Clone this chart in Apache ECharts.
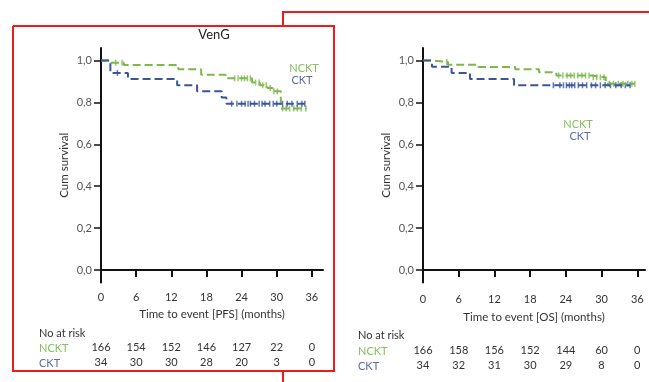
<!DOCTYPE html>
<html><head><meta charset="utf-8">
<script src="https://cdn.jsdelivr.net/npm/echarts@6/dist/echarts.min.js"></script>
<style>html,body{margin:0;padding:0;background:#fff}#c{width:649px;height:382px}</style>
</head><body><div id="c"></div>
<script>
// ---- data ----
const xTicks = [0, 6, 12, 18, 24, 30, 36];
const yTicks = [0, 0.2, 0.4, 0.6, 0.8, 1.0];
const groups = ['NCKT', 'CKT'];

// PFS panel (left)
const pfsNcktT = [0, 1.7, 3.9, 13.2, 17.1, 21.3, 25.8, 27.1, 28.4, 29.3, 30.7, 35.0];
const pfsNcktS = [1, 0.99, 0.979, 0.958, 0.932, 0.915, 0.895, 0.882, 0.869, 0.853, 0.771, 0.771];
const pfsNcktCens = [2.5, 3.6, 22.8, 23.4, 24.0, 24.5, 25.0, 25.5, 26.4, 27.0, 27.6, 28.2, 28.9, 29.5, 30.1, 31.0, 31.6, 32.2, 32.9, 33.5, 34.2, 35.0];
const pfsCktT = [0, 1.6, 4.6, 13.0, 16.4, 20.6, 21.4, 34.8];
const pfsCktS = [1, 0.941, 0.912, 0.882, 0.853, 0.824, 0.794, 0.794];
const pfsCktCens = [2.8, 22.3, 23.2, 24.0, 24.6, 25.1, 25.5, 26.2, 27.0, 27.5, 28.0, 28.8, 29.4, 30.0, 31.0, 31.8, 32.6, 33.5, 34.3, 34.8];
const pfsRiskNckt = [166, 154, 152, 146, 127, 22, 0];
const pfsRiskCkt = [34, 30, 30, 28, 20, 3, 0];

// OS panel (right)
const osNcktT = [0, 1.5, 4.2, 9.3, 15.5, 19.5, 22.4, 28.4, 30.7, 35.6];
const osNcktS = [1, 0.993, 0.98, 0.969, 0.958, 0.944, 0.929, 0.92, 0.889, 0.889];
const osNcktCens = [4.0, 22.8, 23.5, 24.2, 24.8, 25.4, 26.0, 26.7, 27.3, 27.9, 28.6, 29.2, 29.8, 30.4, 31.3, 32.0, 32.8, 33.6, 34.4, 35.1, 35.6];
const osCktT = [0, 1.5, 4.8, 7.9, 15.3, 34.8];
const osCktS = [1, 0.971, 0.941, 0.912, 0.882, 0.882];
const osCktCens = [21.9, 23.0, 23.6, 24.1, 24.6, 25.0, 25.5, 26.1, 26.8, 27.5, 28.3, 29.0, 29.8, 30.6, 31.5, 32.4, 33.3, 34.0, 34.8];
const osRiskNckt = [166, 158, 156, 152, 144, 60, 0];
const osRiskCkt = [34, 32, 31, 30, 29, 8, 0];

const titleText = 'VenG';
const xNames = ['Time to event [PFS] (months)', 'Time to event [OS] (months)'];
const yName = 'Cum survival';
const riskTitle = 'No at risk';

// ---- style ----
const GREEN = '#7cb84a', BLUE = '#3a5699';
const GREEN_T = '#86c05a', BLUE_T = '#5e6ca3';
const FONT = 'Lato';
const RED = '#ee1b1b';

function pts(T, S) { return T.map((t, i) => [t, S[i]]); }
function survAt(T, S, t) { let v = S[0]; for (let i = 0; i < T.length; i++) { if (T[i] <= t) v = S[i]; } return v; }
function cens(T, S, C) { return C.map(t => [t, survAt(T, S, t)]); }

const panels = [
  { left: 101, right: 326, max: 37.9, risk: [pfsRiskNckt, pfsRiskCkt], rowOff: [59, 74], lblMargin: 9, nameGap: 26,
    curves: [[pfsNcktT, pfsNcktS, pfsNcktCens, GREEN], [pfsCktT, pfsCktS, pfsCktCens, BLUE]] },
  { left: 423, right: 4, max: 37.3, risk: [osRiskNckt, osRiskCkt], rowOff: [62, 77], lblMargin: 11, nameGap: 29,
    curves: [[osNcktT, osNcktS, osNcktCens, GREEN], [osCktT, osCktS, osCktCens, BLUE]] }
];

const grid = [], xAxis = [], yAxis = [], series = [];
panels.forEach((p, gi) => {
  grid.push({ left: p.left, right: p.right, top: 48, bottom: 99.4 });
  xAxis.push({
    type: 'value', gridIndex: gi, min: 0, max: p.max,
    axisLine: { show: true, lineStyle: { color: '#111', width: 2 } },
    axisTick: { show: true, customValues: xTicks, length: 7, lineStyle: { color: '#111', width: 2 } },
    axisLabel: { customValues: xTicks, margin: p.lblMargin, fontSize: 11, color: '#333', fontFamily: FONT },
    splitLine: { show: false },
    name: xNames[gi], nameLocation: 'middle', nameGap: p.nameGap,
    nameTextStyle: { fontSize: 11.5, color: '#333', fontFamily: FONT }
  });
  p.risk.forEach((arr, ri) => {
    xAxis.push({
      type: 'value', gridIndex: gi, min: 0, max: p.max, position: 'bottom', offset: p.rowOff[ri],
      axisLine: { show: false }, axisTick: { show: false }, splitLine: { show: false },
      axisLabel: { customValues: xTicks, margin: 0, fontSize: 11, color: '#333', fontFamily: FONT,
        formatter: v => String(arr[xTicks.indexOf(Number(v))]) }
    });
  });
  yAxis.push({
    type: 'value', gridIndex: gi, min: -0.06, max: 1.06,
    axisLine: { show: true, lineStyle: { color: '#111', width: 2 } },
    axisTick: { show: true, customValues: yTicks, length: 7, lineStyle: { color: '#111', width: 1.5 } },
    axisLabel: { customValues: yTicks, margin: 9, fontSize: 11, color: '#555', fontFamily: FONT,
      formatter: v => Number(v).toFixed(1).replace('.', ',') },
    splitLine: { show: false },
    name: yName, nameLocation: 'middle', nameGap: 31,
    nameTextStyle: { fontSize: 11.5, color: '#333', fontFamily: FONT }
  });
});

panels.forEach((p, gi) => {
  const xi = gi * 3;
  p.curves.forEach(([T, S, C, col]) => {
    series.push({
      type: 'line', xAxisIndex: xi, yAxisIndex: gi, step: 'end', data: pts(T, S),
      showSymbol: false, symbol: 'none', silent: true, animation: false,
      lineStyle: { color: col, width: 2, type: [8, 4] }
    });
    series.push({
      type: 'scatter', xAxisIndex: xi, yAxisIndex: gi, data: cens(T, S, C),
      symbol: 'rect', symbolSize: [1.5, 6], itemStyle: { color: col }, silent: true, animation: false
    });
  });
});

function txt(x, y, s, color, size, align) {
  return { type: 'text', x: x, y: y, silent: true,
    style: { text: s, fill: color, font: (size || 11) + 'px ' + FONT, textAlign: align || 'left', textVerticalAlign: 'middle' } };
}

const graphic = [
  { type: 'polyline', silent: true, shape: { points: [[13, 26], [334, 26], [334, 371], [13, 371], [13, 26]] }, style: { stroke: RED, lineWidth: 2, fill: null } },
  { type: 'polyline', silent: true, shape: { points: [[283, 26], [283, 12], [652, 12]] }, style: { stroke: RED, lineWidth: 2, fill: null } },
  { type: 'polyline', silent: true, shape: { points: [[283, 371], [283, 384]] }, style: { stroke: RED, lineWidth: 2, fill: null } },
  txt(214, 35, titleText, '#222', 13, 'center'),
  txt(304, 68, groups[0], GREEN_T, 11, 'center'),
  txt(302, 80, groups[1], BLUE_T, 11, 'center'),
  txt(578, 124, groups[0], GREEN_T, 11, 'center'),
  txt(580, 136, groups[1], BLUE_T, 11, 'center'),
  txt(39, 333, riskTitle, '#333', 11),
  txt(39, 348, groups[0], GREEN_T, 11),
  txt(39, 363, groups[1], BLUE_T, 11),
  txt(358, 335, riskTitle, '#333', 11),
  txt(358, 351, groups[0], GREEN_T, 11),
  txt(358, 366, groups[1], BLUE_T, 11)
];

const chart = echarts.init(document.getElementById('c'), null, { renderer: 'canvas' });
chart.setOption({ animation: false, grid, xAxis, yAxis, series, graphic });
</script>
</body></html>
